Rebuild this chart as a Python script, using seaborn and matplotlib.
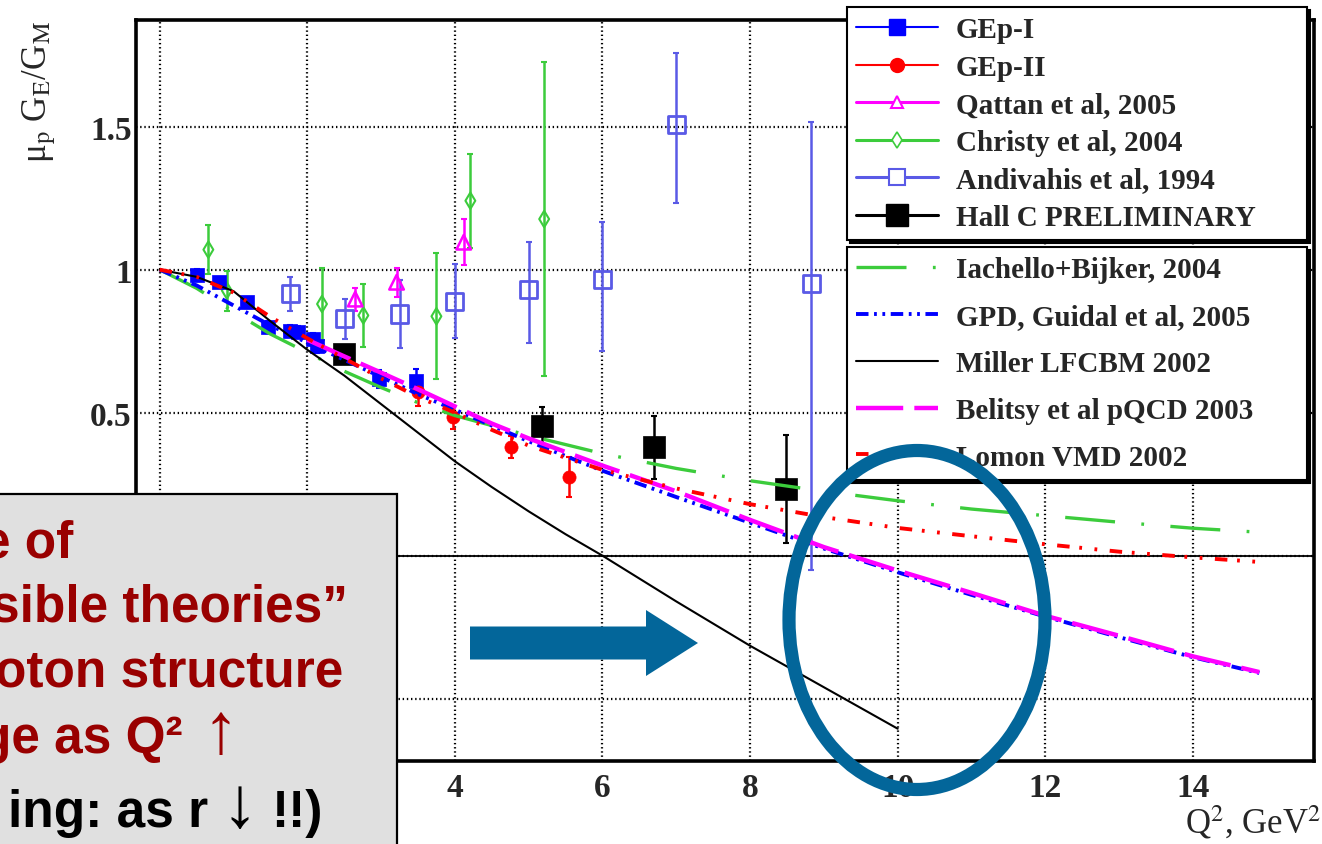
import numpy as np
import pandas as pd
import matplotlib
matplotlib.use("Agg")
import matplotlib.pyplot as plt
import seaborn as sns
from matplotlib.lines import Line2D
from matplotlib.patches import Rectangle, Ellipse, FancyArrow
from matplotlib.ticker import MultipleLocator, FuncFormatter

# ---- measured ratios mu_p G_E / G_M ----
gep1_q2 = [0.50, 0.80, 1.19, 1.47, 1.77, 1.88, 2.08, 2.13, 2.97, 3.48]
gep1_r = [0.981, 0.956, 0.886, 0.799, 0.787, 0.782, 0.758, 0.734, 0.618, 0.612]
gep1_err = [0.02, 0.02, 0.02, 0.02, 0.02, 0.02, 0.02, 0.025, 0.03, 0.04]

gep2_q2 = [3.50, 3.98, 4.76, 5.54]
gep2_r = [0.572, 0.484, 0.380, 0.275]
gep2_err = [0.05, 0.04, 0.04, 0.07]

qattan_q2 = [2.65, 3.21, 4.12]
qattan_r = [0.897, 0.956, 1.096]
qattan_err = [0.04, 0.05, 0.08]

christy_q2 = [0.66, 0.91, 2.20, 2.76, 3.75, 4.21, 5.21]
christy_r = [1.07, 0.927, 0.88, 0.84, 0.837, 1.241, 1.177]
christy_err = [0.085, 0.07, 0.125, 0.11, 0.22, 0.165, 0.55]

andiv_q2 = [1.77, 2.51, 3.25, 4.00, 5.00, 6.00, 7.00, 8.83]
andiv_r = [0.915, 0.828, 0.845, 0.890, 0.932, 0.967, 1.509, 0.950]
andiv_err_lo = [0.06, 0.07, 0.12, 0.13, 0.19, 0.25, 0.276, 1.00]
andiv_err_hi = [0.06, 0.07, 0.12, 0.13, 0.164, 0.20, 0.25, 0.567]

hallc_q2 = [2.50, 5.18, 6.70, 8.48]
hallc_r = [0.705, 0.455, 0.379, 0.233]
hallc_err = [0.015, 0.065, 0.11, 0.19]

# ---- theory curves ----
theory_q2 = [0, 0.5, 1, 1.5, 2, 2.5, 3, 3.5, 4, 4.5, 5, 6, 7, 8, 9, 10, 11, 12, 13, 14, 14.9]
iachello_r = [1.0, 0.935, 0.853, 0.775, 0.71, 0.645, 0.588, 0.535, 0.49, 0.455, 0.42,
              0.357, 0.305, 0.262, 0.225, 0.192, 0.163, 0.14, 0.117, 0.096, 0.082]
gpd_r = [1.0, 0.945, 0.875, 0.805, 0.745, 0.685, 0.625, 0.565, 0.51, 0.455, 0.40,
         0.297, 0.205, 0.115, 0.025, -0.058, -0.137, -0.213, -0.285, -0.355, -0.41]
lomon_r = [1.0, 0.975, 0.92, 0.835, 0.76, 0.69, 0.62, 0.555, 0.5, 0.44, 0.385,
           0.30, 0.235, 0.18, 0.135, 0.097, 0.068, 0.04, 0.014, -0.006, -0.022]

miller_q2 = [0, 0.5, 1, 1.5, 2, 2.5, 3, 3.5, 4, 4.5, 5, 5.5, 6, 7, 8, 9, 10]
miller_r = [1.0, 0.975, 0.925, 0.82, 0.72, 0.63, 0.53, 0.43, 0.33, 0.24, 0.155, 0.075,
            0.0, -0.16, -0.315, -0.46, -0.605]

belitsky_q2 = [2, 2.5, 3, 3.5, 4, 4.5, 5, 6, 7, 8, 9, 10, 11, 12, 13, 14, 14.9]
belitsky_r = [0.755, 0.697, 0.64, 0.582, 0.522, 0.462, 0.41, 0.315, 0.225, 0.125, 0.03,
              -0.052, -0.13, -0.21, -0.28, -0.352, -0.407]

# ---- annotation text (grey box), pieces as they show on the slide ----
note_pieces = ["e of", "sible theories\u201d", "oton structure", "ge as Q\u00b2", "\u2191",
               "ing: as r", "\u2193", "!!)"]

BLUE, RED, MAG, GREEN, VIOLET = "#0000ff", "#ff0000", "#ff00ff", "#3ccc3c", "#5a5ae6"
STEEL = "#03669a"
DARKRED = "#990000"

sns.set_theme(style="white")
plt.rcParams["font.family"] = ["Liberation Serif", "DejaVu Serif"]
plt.rcParams["mathtext.fontset"] = "stix"
plt.rcParams["lines.scale_dashes"] = False

fig = plt.figure(figsize=(13.22, 8.45), dpi=100)
ax = fig.add_axes([0.1029, 0.0982, 0.9939 - 0.1029, 0.9755 - 0.0982])

# grid + zero line
ax.grid(True, which="major", color="black", linestyle=(0, (1, 2)), linewidth=1.6)
ax.axhline(0, color="black", lw=1.3, zorder=1)


def points(q2, r, lo, hi, color, marker, size, filled, mew=1.5):
    ax.errorbar(q2, r, yerr=[lo, hi], fmt="none", ecolor=color, elinewidth=1.8,
                capsize=2.5, capthick=1.5, zorder=3)
    df = pd.DataFrame({"q2": q2, "r": r})
    if filled:
        sns.scatterplot(data=df, x="q2", y="r", marker=marker, s=size, color=color,
                        edgecolor=color, linewidth=0.5, ax=ax, zorder=4, legend=False)
    else:
        sns.scatterplot(data=df, x="q2", y="r", marker=marker, s=size, color=color,
                        facecolor="none", edgecolor=color, linewidth=mew, ax=ax,
                        zorder=4, legend=False)


points(andiv_q2, andiv_r, andiv_err_lo, andiv_err_hi, VIOLET, "s", 150, False, 2.0)
points(christy_q2, christy_r, christy_err, christy_err, GREEN, "d", 70, False, 1.5)
points(qattan_q2, qattan_r, qattan_err, qattan_err, MAG, "^", 110, False, 1.8)
points(gep1_q2, gep1_r, gep1_err, gep1_err, BLUE, "s", 110, True)
points(gep2_q2, gep2_r, gep2_err, gep2_err, RED, "o", 90, True)
points(hallc_q2, hallc_r, hallc_err, hallc_err, "black", "s", 260, True)

# theory curves on top of the points
curves = [
    (theory_q2, iachello_r, GREEN, 2.4, (0, (36, 19, 2, 19))),
    (theory_q2, gpd_r, BLUE, 2.8, (0, (9, 4, 2, 4, 2, 4))),
    (miller_q2, miller_r, "black", 1.5, "-"),
    (belitsky_q2, belitsky_r, MAG, 3.2, (0, (34, 8))),
    (theory_q2, lomon_r, RED, 2.8, (0, (9, 7, 2, 9, 2, 9))),
]
for xq, yr, col, lw, ls in curves:
    sns.lineplot(x=xq, y=yr, color=col, lw=lw, linestyle=ls, sort=False,
                 errorbar=None, ax=ax, zorder=5)

ax.set_xlim(-0.32, 15.64)
ax.set_ylim(-0.718, 1.874)
ax.xaxis.set_major_locator(MultipleLocator(2))
ax.xaxis.set_minor_locator(MultipleLocator(0.5))
ax.yaxis.set_major_locator(MultipleLocator(0.5))
ax.yaxis.set_minor_locator(MultipleLocator(0.1))
ax.yaxis.set_major_formatter(FuncFormatter(lambda v, p: f"{v:g}"))
ax.xaxis.set_major_formatter(FuncFormatter(lambda v, p: f"{v:g}"))
ax.tick_params(axis="both", which="both", direction="in", top=False, right=False,
               color="black", width=1.6)
ax.tick_params(axis="x", which="major", length=16, pad=8, labelsize=24)
ax.tick_params(axis="x", which="minor", length=7)
ax.tick_params(axis="y", which="major", length=20, pad=3, labelsize=24)
ax.tick_params(axis="y", which="minor", length=13)
for lbl in ax.get_xticklabels() + ax.get_yticklabels():
    lbl.set_fontweight("bold")
for sp in ax.spines.values():
    sp.set_color("black")
    sp.set_linewidth(2.6)

ax.set_ylabel("\u03bc$_{\\rm p}$ G$_{\\rm E}$/G$_{\\rm M}$", loc="top", fontsize=25)
ax.yaxis.set_label_coords(-0.066, 1.0)
ax.set_xlabel(r"Q$^2$, GeV$^2$", loc="right", fontsize=25)
ax.xaxis.set_label_coords(1.006, -0.056)

# ---- legends ----
data_handles = [
    Line2D([], [], color=BLUE, lw=1.5, marker="s", ms=11, mfc=BLUE, mec=BLUE),
    Line2D([], [], color=RED, lw=1.5, marker="o", ms=10, mfc=RED, mec=RED),
    Line2D([], [], color=MAG, lw=2.2, marker="^", ms=9, mfc="white", mec=MAG, mew=1.5),
    Line2D([], [], color=GREEN, lw=2.2, marker="d", ms=8, mfc="white", mec=GREEN, mew=1.2),
    Line2D([], [], color=VIOLET, lw=2.2, marker="s", ms=11, mfc="white", mec=VIOLET, mew=1.5),
    Line2D([], [], color="black", lw=2.2, marker="s", ms=16, mfc="black", mec="black"),
]
data_labels = ["GEp-I", "GEp-II", "Qattan et al, 2005", "Christy et al, 2004",
               "Andivahis et al, 1994", "Hall C PRELIMINARY"]
theory_handles = [Line2D([], [], color=c, lw=lw, linestyle=ls) for _, _, c, lw, ls in curves]
theory_labels = ["Iachello+Bijker, 2004", "GPD, Guidal et al, 2005", "Miller LFCBM 2002",
                 "Belitsy et al pQCD 2003", "Lomon VMD 2002"]

leg_font = {"family": "Liberation Serif", "weight": "bold", "size": 21}
W, H = 1322.0, 845.0
for handles, labels, top, spacing in [(data_handles, data_labels, 8, 0.36),
                                      (theory_handles, theory_labels, 248, 0.68)]:
    leg = fig.legend(handles, labels, loc="upper left",
                     bbox_to_anchor=(847 / W, 1 - top / H, (1307 - 847) / W, 0),
                     bbox_transform=fig.transFigure, mode="expand", borderaxespad=0,
                     prop=leg_font, frameon=True, fancybox=False,
                     shadow={"color": "black", "alpha": 1.0},
                     handlelength=2.8, handletextpad=0.62, borderpad=0.32,
                     labelspacing=spacing)
    leg.get_frame().set_edgecolor("black")
    leg.get_frame().set_linewidth(1.5)
    leg.get_frame().set_facecolor("white")
    leg.get_frame().set_alpha(1.0)

# ---- slide overlays: grey text box, arrow, ellipse ----
fig.add_artist(Rectangle((-0.1, -0.1), 4.07, 3.6, transform=fig.dpi_scale_trans,
                         facecolor="#e0e0e0", edgecolor="black", lw=1.6, zorder=20))
# (text, x anchor px, baseline px, colour, size, weight, h-align)
note_layout = [
    (73, 558, DARKRED, 37, "bold", "right"),
    (348, 622, DARKRED, 37, "bold", "right"),
    (343, 687, DARKRED, 37, "bold", "right"),
    (183, 753, DARKRED, 37, "bold", "right"),
    (221, 753, DARKRED, 52, "normal", "center"),
    (208, 827, "black", 37, "bold", "right"),
    (240, 827, "black", 52, "normal", "center"),
    (322, 827, "black", 37, "bold", "right"),
]
for txt, (xa, yb, col, fs, fw, ha) in zip(note_pieces, note_layout):
    fig.text(xa / W, 1 - yb / H, txt, ha=ha, va="baseline", color=col,
             fontsize=fs, fontweight=fw, family=["Liberation Sans", "DejaVu Sans"],
             zorder=21)

fig.add_artist(FancyArrow(4.70, 2.01, 2.28, 0, width=0.33, head_width=0.66,
                          head_length=0.52, length_includes_head=True,
                          transform=fig.dpi_scale_trans, color=STEEL, lw=0, zorder=20))
fig.add_artist(Ellipse((917 / W, 1 - 621 / H), 256 / W, 339 / H, transform=fig.transFigure,
                       fill=False, edgecolor=STEEL, lw=9.5, zorder=22))

fig.savefig("out.png", dpi=100)
